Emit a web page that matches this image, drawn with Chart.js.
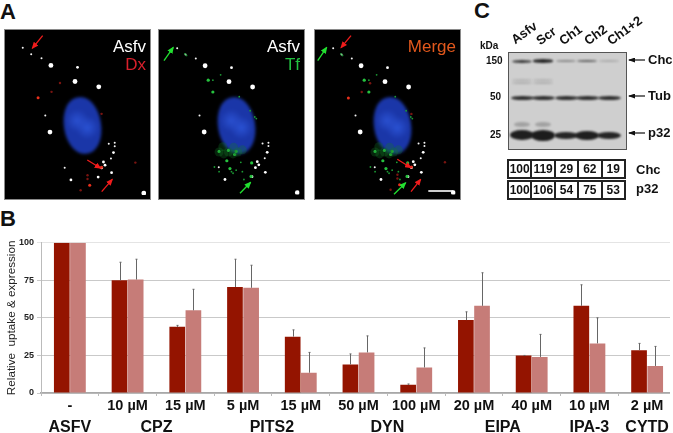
<!DOCTYPE html>
<html><head><meta charset="utf-8">
<script src="https://cdn.jsdelivr.net/npm/chart.js@4"></script>
<style>
html,body{margin:0;padding:0;background:#fff;width:673px;height:433px;overflow:hidden;font-family:"Liberation Sans",Arial,sans-serif}
.abs{position:absolute}
.letter{position:absolute;font:bold 22px "Liberation Sans";color:#111;line-height:22px}
.panel{position:absolute;top:29px;width:145px;height:169px;background:#000;border:1px solid #8a8a8a;overflow:hidden}
.nuc{position:absolute;left:59px;top:67px;width:37px;height:57px;border-radius:48%;transform:rotate(-9deg);filter:blur(1.8px);
 background:radial-gradient(circle at 38% 40%,#2a50d0 0,rgba(42,80,208,0) 28%),radial-gradient(circle at 62% 55%,#2a52d4 0,rgba(42,82,212,0) 30%),#1a36a8}
.lbl{position:absolute;right:4px;font:17px "Liberation Sans";line-height:18px;text-align:right}
.panel canvas{position:absolute;left:0;top:0}
.blot{position:absolute;left:508px;top:52px;width:117px;height:96px;background:#cfcfcf;border:1px solid #555;overflow:hidden}
.band{position:absolute;background:#1c1c1c;border-radius:50%;filter:blur(1px)}
.b{position:absolute;font-weight:bold;color:#111;white-space:nowrap}
.rot{position:absolute;font:bold 13px "Liberation Sans";color:#111;transform-origin:0 100%;transform:rotate(-36deg);white-space:nowrap;line-height:14px}
table.t{position:absolute;left:507px;border-collapse:collapse;font:bold 12px "Liberation Sans";color:#111;table-layout:fixed;width:119px}
table.t td{border:2px solid #222;height:15.5px;padding:0;text-align:center}
</style></head><body>
<div class="letter" style="left:0;top:1px">A</div>
<div class="letter" style="left:0;top:208px">B</div>
<div class="letter" style="left:474px;top:0">C</div>

<div class="panel" style="left:4px"><div class="nuc"></div><canvas id="p1" width="145" height="169"></canvas>
 <div class="lbl" style="top:8px;color:#fff">Asfv</div><div class="lbl" style="top:26px;color:#d8202c">Dx</div></div>
<div class="panel" style="left:158px"><div class="nuc"></div><canvas id="p2" width="145" height="169"></canvas>
 <div class="lbl" style="top:8px;color:#fff">Asfv</div><div class="lbl" style="top:26px;color:#22c040">Tf</div></div>
<div class="panel" style="left:314px"><div class="nuc"></div><canvas id="p3" width="145" height="169"></canvas>
 <div class="lbl" style="top:8px;color:#e2581c">Merge</div></div>

<svg class="abs" style="left:0;top:0;pointer-events:none" width="673" height="210">
<defs>
<marker id="mr" markerWidth="7" markerHeight="6" refX="6" refY="3" orient="auto" markerUnits="userSpaceOnUse"><path d="M0 0L7 3L0 6z" fill="#f01c1c"/></marker>
<marker id="mg" markerWidth="7" markerHeight="6" refX="6" refY="3" orient="auto" markerUnits="userSpaceOnUse"><path d="M0 0L7 3L0 6z" fill="#22e030"/></marker>
<marker id="mk" markerWidth="7" markerHeight="5" refX="6" refY="2.5" orient="auto" markerUnits="userSpaceOnUse"><path d="M0 0L7 2.5L0 5z" fill="#111"/></marker>
</defs>
<g stroke="#f01c1c" stroke-width="1.3">
<line x1="42.7" y1="35.7" x2="32.3" y2="48.3" marker-end="url(#mr)"/><line x1="87.3" y1="160" x2="100.7" y2="168.3" marker-end="url(#mr)"/><line x1="101.7" y1="191.7" x2="112.3" y2="179.3" marker-end="url(#mr)"/>
<line x1="351" y1="35.7" x2="341" y2="47.7" marker-end="url(#mr)"/><line x1="397.3" y1="159.3" x2="411" y2="167.7" marker-end="url(#mr)"/><line x1="411" y1="191.7" x2="420.7" y2="179.3" marker-end="url(#mr)"/>
</g>
<g stroke="#22e030" stroke-width="1.3">
<line x1="164" y1="60.7" x2="173.3" y2="47.3" marker-end="url(#mg)"/><line x1="240" y1="193.3" x2="250.7" y2="182.3" marker-end="url(#mg)"/>
<line x1="317.7" y1="60.7" x2="326.7" y2="47.3" marker-end="url(#mg)"/><line x1="394" y1="194.3" x2="405.7" y2="182.7" marker-end="url(#mg)"/>
</g>
<line x1="428.3" y1="191" x2="453.3" y2="191" stroke="#fff" stroke-width="1.6"/>
<g stroke="#111" stroke-width="1.2">
<line x1="645" y1="60" x2="629" y2="60" marker-end="url(#mk)"/><line x1="645" y1="96" x2="629" y2="96" marker-end="url(#mk)"/><line x1="645" y1="133" x2="629" y2="133" marker-end="url(#mk)"/>
</g>
</svg>

<div class="rot" style="left:517px;top:33px">Asfv</div>
<div class="rot" style="left:542px;top:34px">Scr</div>
<div class="rot" style="left:565px;top:34px">Ch1</div>
<div class="rot" style="left:590px;top:34px">Ch2</div>
<div class="rot" style="left:613px;top:34px">Ch1+2</div>
<div class="b" style="left:480px;top:40px;font-size:10px">kDa</div>
<div class="b" style="left:486px;top:55px;font-size:10px">150</div>
<div class="b" style="left:490px;top:91px;font-size:10px">50</div>
<div class="b" style="left:490px;top:129px;font-size:10px">25</div>
<div class="blot" id="blot"></div>
<div class="b" style="left:648px;top:52px;font-size:13px">Chc</div>
<div class="b" style="left:648px;top:88px;font-size:13px">Tub</div>
<div class="b" style="left:648px;top:125px;font-size:13px">p32</div>
<table class="t" id="tChc" style="top:159px"></table>
<table class="t" id="tP32" style="top:180px"></table>
<div class="b" style="left:636px;top:162px;font-size:13px">Chc</div>
<div class="b" style="left:636px;top:181px;font-size:13px">p32</div>

<div class="abs" style="left:0;top:205px;width:670px;height:228px;overflow:hidden"><canvas id="bars" width="676" height="228"></canvas></div>

<script>
// ---- Panel B data
const treatments = ["-","10 µM","15 µM","5 µM","15 µM","50 µM","100 µM","20 µM","40 µM","10 µM","2 µM"];
const uptake     = [100,75,44,70.5,37.5,19,5.5,48.5,25,58,28.5];
const expression = [100,75.5,55,70,13.5,27,17,58,24,33,18];
const uptakeTop     = [null,87,45,89,42,26,6,54,25,72,33];
const expressionTop = [null,89,69,85,27,38,30,80,39,50,31];
const groupNames = ["ASFV","CPZ","PITS2","DYN","EIPA","IPA-3","CYTD"];
const groupFirst = [0,1,3,5,7,9,10];
const groupLast  = [0,2,4,6,8,9,10];
const yTicks = [0,25,50,75,100];
// ---- Panel C data
const laneNames = ["Asfv","Scr","Ch1","Ch2","Ch1+2"];
const chcRatio = [100,119,29,62,19];
const p32Ratio = [100,106,54,75,53];
// ---- Panel A spots
const asfvSmall = [[85,150],[118,163],[333,435],[352,432],[352,443],[340,482],[192,511],[130,345],[58,130]];
const asfvMedium = [[233,192],[348,463],[316,493],[321,503],[310,512],[342,527],[299,541],[212,550]];
const asfvLarge = [[148,186],[225,237],[301,254],[145,398],[445,592]];
const dxBright = [[107,289],[272,567],[310,510]];
const dxDim = [[177,242],[150,270],[265,535],[265,547],[243,583],[418,495],[310,340]];
const tfSmall = [[83,148],[88,153],[198,215],[293,330],[308,350],[313,355],[178,510],[193,525],[238,530],[273,550],[268,525],[263,495],[248,520],[233,525],[258,285],[173,232]];
const tfLarge = [[158,232],[173,270],[193,460],[223,457],[248,460],[218,490],[228,515],[296,540],[298,497],[243,470]];
const tfHaze = [[193,462],[208,468],[223,462],[238,468],[253,462],[268,455],[205,445],[240,447]];

function spotSet(d,color,r){return {data:d.map(p=>({x:p[0],y:p[1]})),backgroundColor:color,borderWidth:0,pointRadius:r};}
function makePanel(id,sets){
  new Chart(document.getElementById(id),{type:'scatter',data:{datasets:sets},options:{
    responsive:false,animation:false,events:[],layout:{padding:0},
    plugins:{legend:{display:false},tooltip:{enabled:false}},
    scales:{x:{display:false,min:14,max:452},y:{display:false,min:86,max:598,reverse:true}}}});
}
const white=[spotSet(asfvSmall,'#f4f4f4',1),spotSet(asfvMedium,'#fff',1.4),spotSet(asfvLarge,'#fff',2.4)];
const red=[spotSet(dxBright,'#e8301c',1.5),spotSet(dxDim,'#7a1410',1.2)];
const green=[spotSet(tfHaze,'rgba(20,120,40,.3)',4.5),spotSet(tfSmall,'#1c9a34',.9),spotSet(tfLarge,'#26c23e',1.6)];
makePanel('p1',[...red,...white]);
makePanel('p2',[...green,...white]);
makePanel('p3',[...green,...red,...white]);

// ---- Blot
const laneCenters=[13,34,57,78,100], blot=document.getElementById('blot');
function band(cx,cy,w,h,o){const e=document.createElement('div');e.className='band';
 e.style.cssText=`left:${cx-w/2}px;top:${cy-h/2}px;width:${w}px;height:${h}px;opacity:${o}`;blot.appendChild(e);}
[[.85,3],[.95,3.2],[.4,2],[.6,2.2],[.2,1.4]].forEach((b,i)=>band(laneCenters[i],8,20,b[1],b[0]));
[.9,.9,.9,.9,.9].forEach((o,i)=>band(laneCenters[i],44.5,23,4,o));
[[.98,10],[1,11],[.95,7],[.98,9],[.95,7]].forEach((b,i)=>band(laneCenters[i],82,24,b[1],b[0]));
[0,1].forEach(i=>{band(laneCenters[i],30,20,1.5,.18);band(laneCenters[i],27,20,1.5,.15);band(laneCenters[i],71,16,5,.25);});

// ---- Tables
function fillRow(id,vals){document.getElementById(id).innerHTML='<tr>'+vals.map(v=>`<td>${v}</td>`).join('')+'</tr>';}
fillRow('tChc',chcRatio);fillRow('tP32',p32Ratio);

// ---- Panel B
const errorBars={id:'errorBars',afterDatasetsDraw(c){
  const g=c.ctx,y=c.scales.y;g.save();g.strokeStyle='#666';g.lineWidth=1;
  [uptakeTop,expressionTop].forEach((tops,ds)=>{
    c.getDatasetMeta(ds).data.forEach((el,i)=>{
      if(tops[i]==null)return;
      const px=Math.round(el.x)+.5,py=y.getPixelForValue(tops[i]);
      g.beginPath();g.moveTo(px,el.y);g.lineTo(px,py);g.moveTo(px-1,py);g.lineTo(px+1,py);g.stroke();
    });
  });
  g.restore();
}};
const groupLabels={id:'groupLabels',afterDraw(c){
  const g=c.ctx,x=c.scales.x;g.save();g.font='bold 16px "Liberation Sans"';g.fillStyle='#111';g.textAlign='center';g.textBaseline='middle';
  groupNames.forEach((n,i)=>{g.fillText(n,(x.getPixelForValue(groupFirst[i])+x.getPixelForValue(groupLast[i]))/2,222.5);});
  g.restore();
}};
new Chart(document.getElementById('bars'),{type:'bar',
  data:{labels:treatments,datasets:[
    {label:'Uptake',data:uptake,backgroundColor:'#941400',borderWidth:0},
    {label:'Expression',data:expression,backgroundColor:'#c67c78',borderWidth:0}]},
  options:{responsive:false,animation:false,events:[],
    layout:{padding:{top:37.7,left:0,right:0,bottom:0}},
    datasets:{bar:{categoryPercentage:.56,barPercentage:.97}},
    plugins:{legend:{display:false},tooltip:{enabled:false}},
    scales:{
      x:{afterFit(s){s.height=40;},
         grid:{drawOnChartArea:false,color:'#bbb',tickLength:3,offset:true},
         border:{color:'#a8a8a8',width:1.5},
         ticks:{color:'#111',font:{family:'"Liberation Sans"',size:14.5,weight:'bold'},maxRotation:0,autoSkip:false,padding:1}},
      y:{min:0,max:100,afterFit(s){s.width=41;},
         afterBuildTicks(s){s.ticks=yTicks.map(v=>({value:v}));},
         grid:{color:c=>c.tick&&c.tick.value===100?'#e4e4e4':'#c9c9c9',lineWidth:1,tickLength:4},
         border:{color:'#bbb'},
         ticks:{color:'#222',font:{family:'"Liberation Sans"',size:9,weight:'bold'},padding:3},
         title:{display:true,text:'Relative  uptake & expression',color:'#222',font:{family:'"Liberation Sans"',size:11.7},padding:{top:5,bottom:0}}}
    }},
  plugins:[errorBars,groupLabels]});
</script>
</body></html>
